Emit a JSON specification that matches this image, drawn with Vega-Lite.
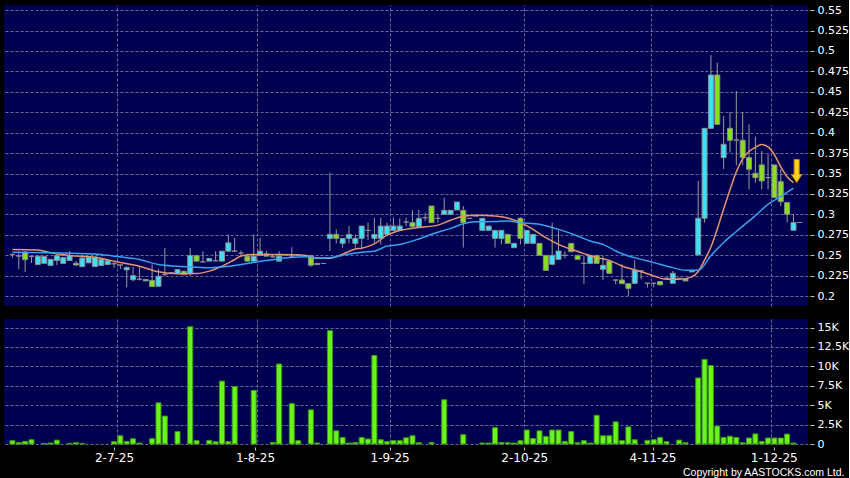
{
  "$schema": "https://vega.github.io/schema/vega-lite/v6.json",
  "background": "#000000",
  "padding": {"left": 4, "top": 4, "right": 0, "bottom": 0},
  "config": {
    "view": {"fill": "#000050", "stroke": null},
    "axis": {"domain": false, "labelColor": "#ffffff", "labelFont": "DejaVu Sans", "labelFontSize": 11, "tickColor": "#c0c0c0", "gridColor": "#6a6a9a", "gridDash": [3, 2], "gridWidth": 1, "titleColor": "#ffffff"},
    "concat": {"spacing": 13}
  },
  "datasets": {
    "candles": [
      {"i":0,"o":0.251,"h":0.252,"l":0.247,"c":0.251,"v":430},
      {"i":1,"o":0.249,"h":0.255,"l":0.233,"c":0.249,"v":200},
      {"i":2,"o":0.254,"h":0.255,"l":0.2295,"c":0.2445,"v":340},
      {"i":3,"o":0.2485,"h":0.2495,"l":0.2405,"c":0.2485,"v":550},
      {"i":4,"o":0.2386,"h":0.249,"l":0.238,"c":0.2488,"v":0},
      {"i":5,"o":0.24,"h":0.2485,"l":0.24,"c":0.2485,"v":80},
      {"i":6,"o":0.2375,"h":0.245,"l":0.2375,"c":0.245,"v":130},
      {"i":7,"o":0.2435,"h":0.251,"l":0.238,"c":0.2495,"v":500},
      {"i":8,"o":0.24,"h":0.247,"l":0.24,"c":0.247,"v":0},
      {"i":9,"o":0.2435,"h":0.255,"l":0.2435,"c":0.2495,"v":80},
      {"i":10,"o":0.24,"h":0.243,"l":0.237,"c":0.238,"v":170},
      {"i":11,"o":0.236,"h":0.2485,"l":0.236,"c":0.2465,"v":80},
      {"i":12,"o":0.2406,"h":0.249,"l":0.2406,"c":0.2476,"v":0},
      {"i":13,"o":0.236,"h":0.2476,"l":0.236,"c":0.2476,"v":0},
      {"i":14,"o":0.2373,"h":0.2447,"l":0.2373,"c":0.2447,"v":0},
      {"i":15,"o":0.2385,"h":0.2435,"l":0.2385,"c":0.2435,"v":0},
      {"i":16,"o":0.2395,"h":0.2415,"l":0.2345,"c":0.2395,"v":300},
      {"i":17,"o":0.238,"h":0.238,"l":0.233,"c":0.238,"v":1060},
      {"i":18,"o":0.232,"h":0.236,"l":0.2105,"c":0.235,"v":340},
      {"i":19,"o":0.22,"h":0.2355,"l":0.218,"c":0.225,"v":680},
      {"i":20,"o":0.2205,"h":0.2365,"l":0.219,"c":0.2205,"v":130},
      {"i":21,"o":0.2185,"h":0.2202,"l":0.2185,"c":0.2202,"v":0},
      {"i":22,"o":0.219,"h":0.2386,"l":0.211,"c":0.2117,"v":680},
      {"i":23,"o":0.212,"h":0.2333,"l":0.211,"c":0.2243,"v":5300},
      {"i":24,"o":0.2265,"h":0.259,"l":0.2243,"c":0.2265,"v":3600},
      {"i":25,"o":0.2285,"h":0.2285,"l":0.2285,"c":0.2285,"v":0},
      {"i":26,"o":0.2276,"h":0.2325,"l":0.2276,"c":0.2325,"v":1600},
      {"i":27,"o":0.2304,"h":0.2304,"l":0.2263,"c":0.2263,"v":0},
      {"i":28,"o":0.2276,"h":0.259,"l":0.2245,"c":0.2496,"v":15100},
      {"i":29,"o":0.2496,"h":0.2496,"l":0.2427,"c":0.2427,"v":430},
      {"i":30,"o":0.2418,"h":0.2549,"l":0.2414,"c":0.2418,"v":0},
      {"i":31,"o":0.2427,"h":0.2459,"l":0.2427,"c":0.2459,"v":470},
      {"i":32,"o":0.2432,"h":0.2549,"l":0.2425,"c":0.2432,"v":300},
      {"i":33,"o":0.2427,"h":0.2549,"l":0.2427,"c":0.2549,"v":8100},
      {"i":34,"o":0.2549,"h":0.2753,"l":0.2549,"c":0.2651,"v":300},
      {"i":35,"o":0.255,"h":0.2712,"l":0.2545,"c":0.255,"v":7400},
      {"i":36,"o":0.2525,"h":0.2557,"l":0.2488,"c":0.2525,"v":0},
      {"i":37,"o":0.2488,"h":0.2488,"l":0.2427,"c":0.2427,"v":0},
      {"i":38,"o":0.2427,"h":0.2753,"l":0.2427,"c":0.2488,"v":6900},
      {"i":39,"o":0.2496,"h":0.2712,"l":0.2496,"c":0.2549,"v":0},
      {"i":40,"o":0.2516,"h":0.2549,"l":0.2488,"c":0.2488,"v":0},
      {"i":41,"o":0.248,"h":0.2505,"l":0.247,"c":0.248,"v":200},
      {"i":42,"o":0.2427,"h":0.2549,"l":0.2427,"c":0.2488,"v":10300},
      {"i":43,"o":0.2505,"h":0.2505,"l":0.2505,"c":0.2505,"v":0},
      {"i":44,"o":0.249,"h":0.2598,"l":0.2467,"c":0.249,"v":5200},
      {"i":45,"o":0.2505,"h":0.2505,"l":0.2505,"c":0.2505,"v":430},
      {"i":46,"o":0.2495,"h":0.2495,"l":0.2495,"c":0.2495,"v":0},
      {"i":47,"o":0.2492,"h":0.2505,"l":0.2357,"c":0.2378,"v":4400},
      {"i":48,"o":0.2385,"h":0.24,"l":0.2385,"c":0.24,"v":130},
      {"i":49,"o":0.2398,"h":0.2398,"l":0.2398,"c":0.2398,"v":0},
      {"i":50,"o":0.2706,"h":0.351,"l":0.2551,"c":0.2755,"v":14600},
      {"i":51,"o":0.2755,"h":0.2816,"l":0.2645,"c":0.2706,"v":1700},
      {"i":52,"o":0.2645,"h":0.2706,"l":0.2592,"c":0.2706,"v":850},
      {"i":53,"o":0.2706,"h":0.2857,"l":0.2645,"c":0.2755,"v":130},
      {"i":54,"o":0.2645,"h":0.2755,"l":0.2592,"c":0.2706,"v":200},
      {"i":55,"o":0.2706,"h":0.2857,"l":0.2592,"c":0.2857,"v":850},
      {"i":56,"o":0.2804,"h":0.2898,"l":0.2686,"c":0.2804,"v":640},
      {"i":57,"o":0.2706,"h":0.2959,"l":0.2653,"c":0.2755,"v":11400},
      {"i":58,"o":0.2706,"h":0.2959,"l":0.2633,"c":0.2857,"v":550},
      {"i":59,"o":0.2755,"h":0.2898,"l":0.2755,"c":0.2857,"v":300},
      {"i":60,"o":0.2804,"h":0.2959,"l":0.2804,"c":0.2857,"v":430},
      {"i":61,"o":0.2804,"h":0.2951,"l":0.2804,"c":0.2857,"v":430},
      {"i":62,"o":0.2906,"h":0.2959,"l":0.2857,"c":0.2906,"v":800},
      {"i":63,"o":0.2898,"h":0.3053,"l":0.2837,"c":0.2849,"v":1060},
      {"i":64,"o":0.2849,"h":0.3053,"l":0.2849,"c":0.2951,"v":170},
      {"i":65,"o":0.2959,"h":0.302,"l":0.2918,"c":0.2959,"v":0},
      {"i":66,"o":0.3102,"h":0.3102,"l":0.2898,"c":0.2898,"v":200},
      {"i":67,"o":0.2951,"h":0.3,"l":0.2898,"c":0.2951,"v":0},
      {"i":68,"o":0.3,"h":0.3204,"l":0.3,"c":0.3049,"v":5700},
      {"i":69,"o":0.3,"h":0.3049,"l":0.3,"c":0.3049,"v":0},
      {"i":70,"o":0.3053,"h":0.3151,"l":0.3053,"c":0.3151,"v":0},
      {"i":71,"o":0.3049,"h":0.3102,"l":0.2592,"c":0.2898,"v":1200},
      {"i":72,"o":0.2951,"h":0.2951,"l":0.2951,"c":0.2951,"v":0},
      {"i":73,"o":0.298,"h":0.298,"l":0.298,"c":0.298,"v":0},
      {"i":74,"o":0.2804,"h":0.2951,"l":0.2804,"c":0.2951,"v":130},
      {"i":75,"o":0.2804,"h":0.2857,"l":0.2804,"c":0.2857,"v":130},
      {"i":76,"o":0.2706,"h":0.2804,"l":0.2592,"c":0.2804,"v":2100},
      {"i":77,"o":0.2706,"h":0.2804,"l":0.2633,"c":0.2804,"v":200},
      {"i":78,"o":0.2755,"h":0.2755,"l":0.2645,"c":0.2645,"v":170},
      {"i":79,"o":0.2592,"h":0.2645,"l":0.2592,"c":0.2645,"v":130},
      {"i":80,"o":0.2951,"h":0.2967,"l":0.2633,"c":0.2706,"v":430},
      {"i":81,"o":0.2645,"h":0.2804,"l":0.2645,"c":0.2804,"v":1800},
      {"i":82,"o":0.2645,"h":0.2755,"l":0.2645,"c":0.2755,"v":720},
      {"i":83,"o":0.2645,"h":0.2645,"l":0.2498,"c":0.2498,"v":1700},
      {"i":84,"o":0.2498,"h":0.2498,"l":0.2314,"c":0.2314,"v":980},
      {"i":85,"o":0.2388,"h":0.2898,"l":0.2388,"c":0.2498,"v":1800},
      {"i":86,"o":0.2449,"h":0.2804,"l":0.2449,"c":0.2551,"v":1800},
      {"i":87,"o":0.2498,"h":0.2547,"l":0.2461,"c":0.2498,"v":340},
      {"i":88,"o":0.2645,"h":0.2645,"l":0.2543,"c":0.2543,"v":1600},
      {"i":89,"o":0.2498,"h":0.2498,"l":0.2449,"c":0.2449,"v":170},
      {"i":90,"o":0.24,"h":0.249,"l":0.2151,"c":0.24,"v":430},
      {"i":91,"o":0.24,"h":0.2498,"l":0.24,"c":0.2498,"v":130},
      {"i":92,"o":0.2498,"h":0.2498,"l":0.24,"c":0.24,"v":3700},
      {"i":93,"o":0.2327,"h":0.249,"l":0.2196,"c":0.2376,"v":1060},
      {"i":94,"o":0.2429,"h":0.2429,"l":0.2278,"c":0.2278,"v":1060},
      {"i":95,"o":0.2196,"h":0.2196,"l":0.2143,"c":0.2196,"v":2850},
      {"i":96,"o":0.2196,"h":0.2388,"l":0.2151,"c":0.2151,"v":430},
      {"i":97,"o":0.2151,"h":0.2151,"l":0.2,"c":0.2094,"v":2200},
      {"i":98,"o":0.2155,"h":0.244,"l":0.2151,"c":0.2318,"v":550},
      {"i":99,"o":0.2308,"h":0.2308,"l":0.2206,"c":0.2308,"v":0},
      {"i":100,"o":0.2157,"h":0.2157,"l":0.2104,"c":0.2157,"v":470},
      {"i":101,"o":0.2157,"h":0.2157,"l":0.2104,"c":0.2157,"v":550},
      {"i":102,"o":0.2178,"h":0.2178,"l":0.2137,"c":0.2137,"v":850},
      {"i":103,"o":0.2218,"h":0.2218,"l":0.2218,"c":0.2218,"v":300},
      {"i":104,"o":0.2156,"h":0.2307,"l":0.2156,"c":0.2279,"v":0},
      {"i":105,"o":0.2217,"h":0.2217,"l":0.2217,"c":0.2217,"v":500},
      {"i":106,"o":0.221,"h":0.221,"l":0.2185,"c":0.2185,"v":170},
      {"i":107,"o":0.2295,"h":0.2315,"l":0.2295,"c":0.2315,"v":0},
      {"i":108,"o":0.2503,"h":0.3409,"l":0.2503,"c":0.2952,"v":8500},
      {"i":109,"o":0.2952,"h":0.4053,"l":0.2899,"c":0.4053,"v":10900},
      {"i":110,"o":0.4053,"h":0.4951,"l":0.4053,"c":0.4706,"v":10100},
      {"i":111,"o":0.4706,"h":0.4857,"l":0.41,"c":0.4102,"v":2300},
      {"i":112,"o":0.3694,"h":0.4204,"l":0.3552,"c":0.3858,"v":850},
      {"i":113,"o":0.4053,"h":0.4253,"l":0.3756,"c":0.3907,"v":1000},
      {"i":114,"o":0.391,"h":0.451,"l":0.36,"c":0.391,"v":850},
      {"i":115,"o":0.3907,"h":0.4253,"l":0.3605,"c":0.3694,"v":170},
      {"i":116,"o":0.3694,"h":0.4102,"l":0.3307,"c":0.3552,"v":770},
      {"i":117,"o":0.3503,"h":0.3951,"l":0.3388,"c":0.345,"v":1300},
      {"i":118,"o":0.3605,"h":0.3776,"l":0.3307,"c":0.3409,"v":340},
      {"i":119,"o":0.345,"h":0.3735,"l":0.3307,"c":0.345,"v":770},
      {"i":120,"o":0.3605,"h":0.3605,"l":0.3205,"c":0.3205,"v":770},
      {"i":121,"o":0.34,"h":0.3552,"l":0.3103,"c":0.3156,"v":770},
      {"i":122,"o":0.3144,"h":0.3144,"l":0.2899,"c":0.3001,"v":1280},
      {"i":123,"o":0.2805,"h":0.3001,"l":0.2805,"c":0.2899,"v":130},
      {"i":124,"o":0.29,"h":0.29,"l":0.29,"c":0.29,"v":0}
    ],
    "ma": [
      {"s":"short","i":0,"v":0.2569},{"s":"short","i":4,"v":0.2565},{"s":"short","i":6,"v":0.2529},{"s":"short","i":9,"v":0.2496},
      {"s":"short","i":13,"v":0.2476},{"s":"short","i":16,"v":0.2427},{"s":"short","i":20,"v":0.2365},{"s":"short","i":23,"v":0.2296},
      {"s":"short","i":26,"v":0.2272},{"s":"short","i":29,"v":0.2275},{"s":"short","i":31,"v":0.2305},{"s":"short","i":33,"v":0.2365},
      {"s":"short","i":35,"v":0.2447},{"s":"short","i":36,"v":0.249},{"s":"short","i":38,"v":0.2508},{"s":"short","i":42,"v":0.2508},
      {"s":"short","i":46,"v":0.25},{"s":"short","i":48,"v":0.2463},{"s":"short","i":50,"v":0.2463},{"s":"short","i":52,"v":0.2512},
      {"s":"short","i":54,"v":0.2575},{"s":"short","i":55,"v":0.2586},{"s":"short","i":57,"v":0.2638},{"s":"short","i":59,"v":0.2746},
      {"s":"short","i":61,"v":0.2801},{"s":"short","i":64,"v":0.2838},{"s":"short","i":67,"v":0.2868},{"s":"short","i":69,"v":0.2928},
      {"s":"short","i":71,"v":0.2976},{"s":"short","i":73,"v":0.299},{"s":"short","i":76,"v":0.298},{"s":"short","i":78,"v":0.2955},
      {"s":"short","i":80,"v":0.2898},{"s":"short","i":82,"v":0.2816},{"s":"short","i":84,"v":0.2714},{"s":"short","i":86,"v":0.2633},
      {"s":"short","i":88,"v":0.2572},{"s":"short","i":90,"v":0.2519},{"s":"short","i":92,"v":0.247},{"s":"short","i":94,"v":0.2437},
      {"s":"short","i":96,"v":0.2368},{"s":"short","i":98,"v":0.232},{"s":"short","i":99,"v":0.2298},{"s":"short","i":101,"v":0.2246},
      {"s":"short","i":103,"v":0.2205},{"s":"short","i":105,"v":0.2205},{"s":"short","i":107,"v":0.2234},{"s":"short","i":108,"v":0.230},
      {"s":"short","i":109,"v":0.244},{"s":"short","i":110,"v":0.26},{"s":"short","i":111,"v":0.282},{"s":"short","i":112,"v":0.3066},
      {"s":"short","i":113,"v":0.33},{"s":"short","i":114,"v":0.352},{"s":"short","i":115,"v":0.368},{"s":"short","i":116,"v":0.377},
      {"s":"short","i":117,"v":0.382},{"s":"short","i":118,"v":0.3855},{"s":"short","i":119,"v":0.3825},{"s":"short","i":120,"v":0.373},
      {"s":"short","i":121,"v":0.358},{"s":"short","i":122,"v":0.346},{"s":"short","i":123,"v":0.3388},
      {"s":"long","i":0,"v":0.2537},{"s":"long","i":13,"v":0.2516},{"s":"long","i":16,"v":0.2488},{"s":"long","i":20,"v":0.2447},
      {"s":"long","i":23,"v":0.2386},{"s":"long","i":26,"v":0.2365},{"s":"long","i":29,"v":0.2353},{"s":"long","i":31,"v":0.2345},
      {"s":"long","i":33,"v":0.2355},{"s":"long","i":35,"v":0.2374},{"s":"long","i":40,"v":0.2435},{"s":"long","i":46,"v":0.248},
      {"s":"long","i":48,"v":0.2467},{"s":"long","i":50,"v":0.247},{"s":"long","i":52,"v":0.25},{"s":"long","i":55,"v":0.2537},
      {"s":"long","i":57,"v":0.2549},{"s":"long","i":59,"v":0.2612},{"s":"long","i":61,"v":0.2631},{"s":"long","i":64,"v":0.2699},
      {"s":"long","i":66,"v":0.2756},{"s":"long","i":69,"v":0.2828},{"s":"long","i":71,"v":0.2885},{"s":"long","i":73,"v":0.2908},
      {"s":"long","i":76,"v":0.2912},{"s":"long","i":78,"v":0.2918},{"s":"long","i":80,"v":0.2898},{"s":"long","i":83,"v":0.2878},
      {"s":"long","i":86,"v":0.2816},{"s":"long","i":89,"v":0.2735},{"s":"long","i":91,"v":0.2674},{"s":"long","i":93,"v":0.2633},
      {"s":"long","i":95,"v":0.2551},{"s":"long","i":97,"v":0.249},{"s":"long","i":99,"v":0.2449},{"s":"long","i":101,"v":0.2409},
      {"s":"long","i":104,"v":0.2348},{"s":"long","i":106,"v":0.2315},{"s":"long","i":108,"v":0.2315},{"s":"long","i":110,"v":0.2495},
      {"s":"long","i":112,"v":0.2655},{"s":"long","i":114,"v":0.279},{"s":"long","i":117,"v":0.2985},{"s":"long","i":119,"v":0.3123},
      {"s":"long","i":121,"v":0.322},{"s":"long","i":123,"v":0.332}
    ],
    "arrow": [{"i":123.5,"p":0.353}]
  },
  "vconcat": [
    {
      "width": 804,
      "height": 301,
      "encoding": {
        "x": {"field": "i", "type": "quantitative", "scale": {"domain": [-0.54, 124.5], "nice": false, "zero": false},
              "axis": {"orient": "top", "values": [16.5, 38.5, 59.5, 80.5, 100.5, 119.4], "labels": false, "ticks": false, "grid": true, "title": null}}
      },
      "layer": [
        {
          "data": {"name": "candles"},
          "mark": {"type": "rule", "color": "#9a9a9a", "strokeWidth": 1},
          "encoding": {
            "y": {"field": "l", "type": "quantitative", "scale": {"domain": [0.1878, 0.5563], "nice": false, "zero": false},
                  "axis": {"orient": "right", "values": [0.2, 0.225, 0.25, 0.275, 0.3, 0.325, 0.35, 0.375, 0.4, 0.425, 0.45, 0.475, 0.5, 0.525, 0.55], "labelExpr": "'' + datum.value", "offset": 2, "tickSize": 4, "labelPadding": 3, "grid": true, "title": null}},
            "y2": {"field": "h"}
          }
        },
        {
          "data": {"name": "candles"},
          "mark": {"type": "bar", "size": 5, "stroke": "#8c8c8c", "strokeWidth": 1},
          "encoding": {
            "y": {"field": "o", "type": "quantitative",
                  "axis": {"orient": "right", "values": [0.2, 0.225, 0.25, 0.275, 0.3, 0.325, 0.35, 0.375, 0.4, 0.425, 0.45, 0.475, 0.5, 0.525, 0.55], "labelExpr": "'' + datum.value", "offset": 2, "tickSize": 4, "labelPadding": 3, "grid": true, "title": null}},
            "y2": {"field": "c"},
            "color": {"condition": {"test": "datum.c > datum.o", "value": "#3ee0f8"}, "value": "#86e01e"}
          }
        },
        {
          "data": {"name": "ma"},
          "mark": {"type": "line", "strokeWidth": 1.5, "interpolate": "monotone"},
          "encoding": {
            "y": {"field": "v", "type": "quantitative",
                  "axis": {"orient": "right", "values": [0.2, 0.225, 0.25, 0.275, 0.3, 0.325, 0.35, 0.375, 0.4, 0.425, 0.45, 0.475, 0.5, 0.525, 0.55], "labelExpr": "'' + datum.value", "offset": 2, "tickSize": 4, "labelPadding": 3, "grid": true, "title": null}},
            "color": {"field": "s", "type": "nominal", "scale": {"domain": ["short", "long"], "range": ["#e49470", "#3aa0f0"]}, "legend": null}
          }
        },
        {
          "data": {"name": "arrow"},
          "mark": {"type": "point", "shape": "M-0.22,-1L0.22,-1L0.22,0.3L0.45,0.3L0,1L-0.45,0.3L-0.22,0.3Z", "size": 529, "filled": true, "fill": "#ffd21f", "stroke": "#c88a00", "strokeWidth": 1, "opacity": 1},
          "encoding": {
            "y": {"field": "p", "type": "quantitative",
                  "axis": {"orient": "right", "values": [0.2, 0.225, 0.25, 0.275, 0.3, 0.325, 0.35, 0.375, 0.4, 0.425, 0.45, 0.475, 0.5, 0.525, 0.55], "labelExpr": "'' + datum.value", "offset": 2, "tickSize": 4, "labelPadding": 3, "grid": true, "title": null}}
          }
        }
      ]
    },
    {
      "width": 804,
      "height": 125,
      "layer": [
        {
          "data": {"name": "candles"},
          "mark": {"type": "tick", "opacity": 0},
          "encoding": {
            "x": {"field": "i", "type": "quantitative", "scale": {"domain": [-0.54, 124.5], "nice": false, "zero": false},
                  "axis": {"orient": "top", "values": [16.5, 38.5, 59.5, 80.5, 100.5, 119.4], "labels": false, "ticks": false, "grid": true, "title": null}}
          }
        },
        {
          "data": {"name": "candles"},
          "transform": [{"filter": "datum.v > 0"}],
          "mark": {"type": "bar", "size": 5, "fill": "#6af51a", "stroke": "#3c9a12", "strokeWidth": 1},
          "encoding": {
            "x": {"field": "i", "type": "quantitative",
                  "axis": {"orient": "bottom", "values": [16, 38.2, 59.4, 80.6, 100.8, 119.9],
                           "labelExpr": "datum.value < 20 ? '2-7-25' : datum.value < 45 ? '1-8-25' : datum.value < 70 ? '1-9-25' : datum.value < 90 ? '2-10-25' : datum.value < 110 ? '4-11-25' : '1-12-25'",
                           "grid": false, "offset": 3, "tickSize": 3, "labelPadding": 2, "labelFontSize": 12,
                           "title": "Copyright by AASTOCKS.com Ltd.", "titleX": 840, "titleY": 25, "titleAlign": "right", "titleBaseline": "middle",
                           "titleFont": "Liberation Sans", "titleFontSize": 10.5, "titleFontWeight": "normal", "titleColor": "#ffffff"}},
            "y": {"field": "v", "type": "quantitative", "scale": {"domain": [0, 16100], "nice": false},
                  "axis": {"orient": "right", "values": [0, 2500, 5000, 7500, 10000, 12500, 15000],
                           "labelExpr": "datum.value == 0 ? '0' : format(datum.value / 1000, '~g') + 'K'",
                           "grid": true, "offset": 2, "tickSize": 4, "labelPadding": 3, "title": null}}
          }
        }
      ],
      "resolve": {"axis": {"x": "independent"}}
    }
  ]
}
